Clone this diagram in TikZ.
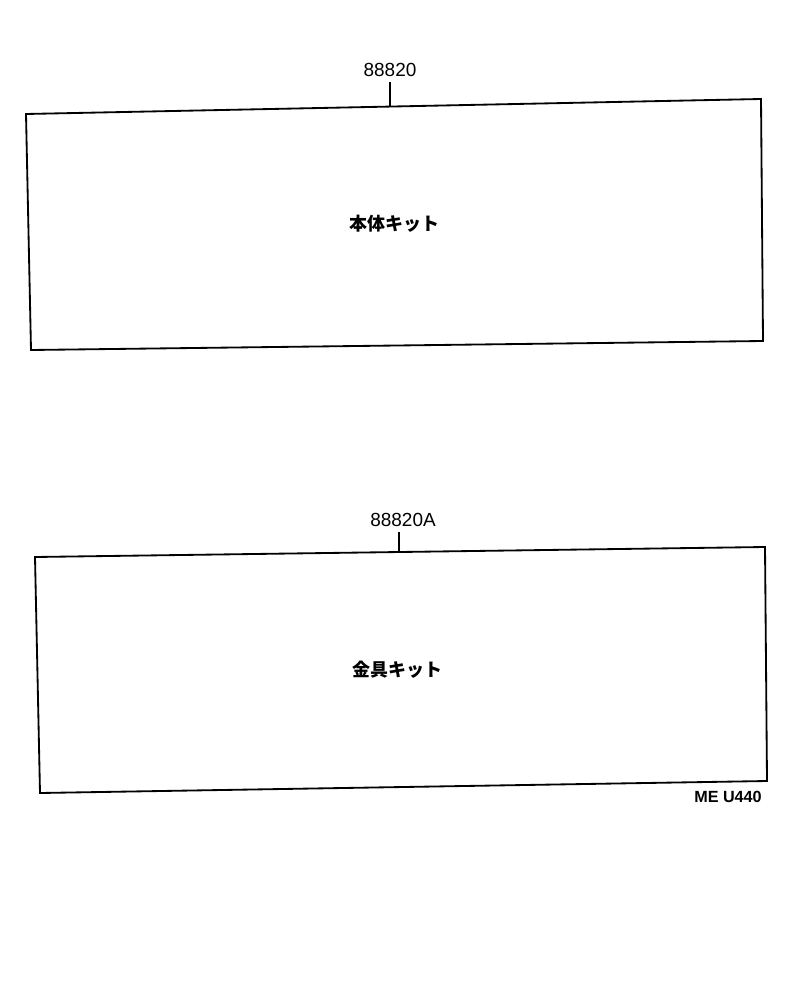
\documentclass[tikz,border=0pt]{standalone}
\usepackage{fontspec}
\setmainfont{Liberation Sans}
\newfontfamily\jpfont{Noto Sans CJK JP}

\begin{document}
\begin{tikzpicture}[every node/.style={font=\fontsize{13.5}{15}\selectfont}, x=0.025cm, y=-0.025cm, line width=1.3pt]

\useasboundingbox (0, 0) rectangle (800, 990);

% Kit 1 (body kit)
\draw (26, 114) -- (761, 99) -- (763, 341) -- (31, 350) -- cycle;
\node[font=\fontsize{12.8}{14}\selectfont] (kit1) at (394, 224) {\jpfont\bfseries 本体キット};
\node (num1) at (390, 70) {88820};
\coordinate (top1) at (390, 107); % on box edge
\draw (num1.south) -- (top1);


% Kit 2 (fitting kit)
\draw (35, 557) -- (765, 547) -- (767, 781) -- (40, 793) -- cycle;
\node[font=\fontsize{12.8}{14}\selectfont] (kit2) at (397, 670) {\jpfont\bfseries 金具キット};
\node (num2) at (403, 520) {88820A};
\coordinate (top2) at (399, 552);
\draw (num2.south -| top2) -- (top2);

% drawing number
\node[font=\fontsize{11.5}{13}\selectfont\bfseries] (ref) at (728, 797) {ME U440};

\end{tikzpicture}
\end{document}
